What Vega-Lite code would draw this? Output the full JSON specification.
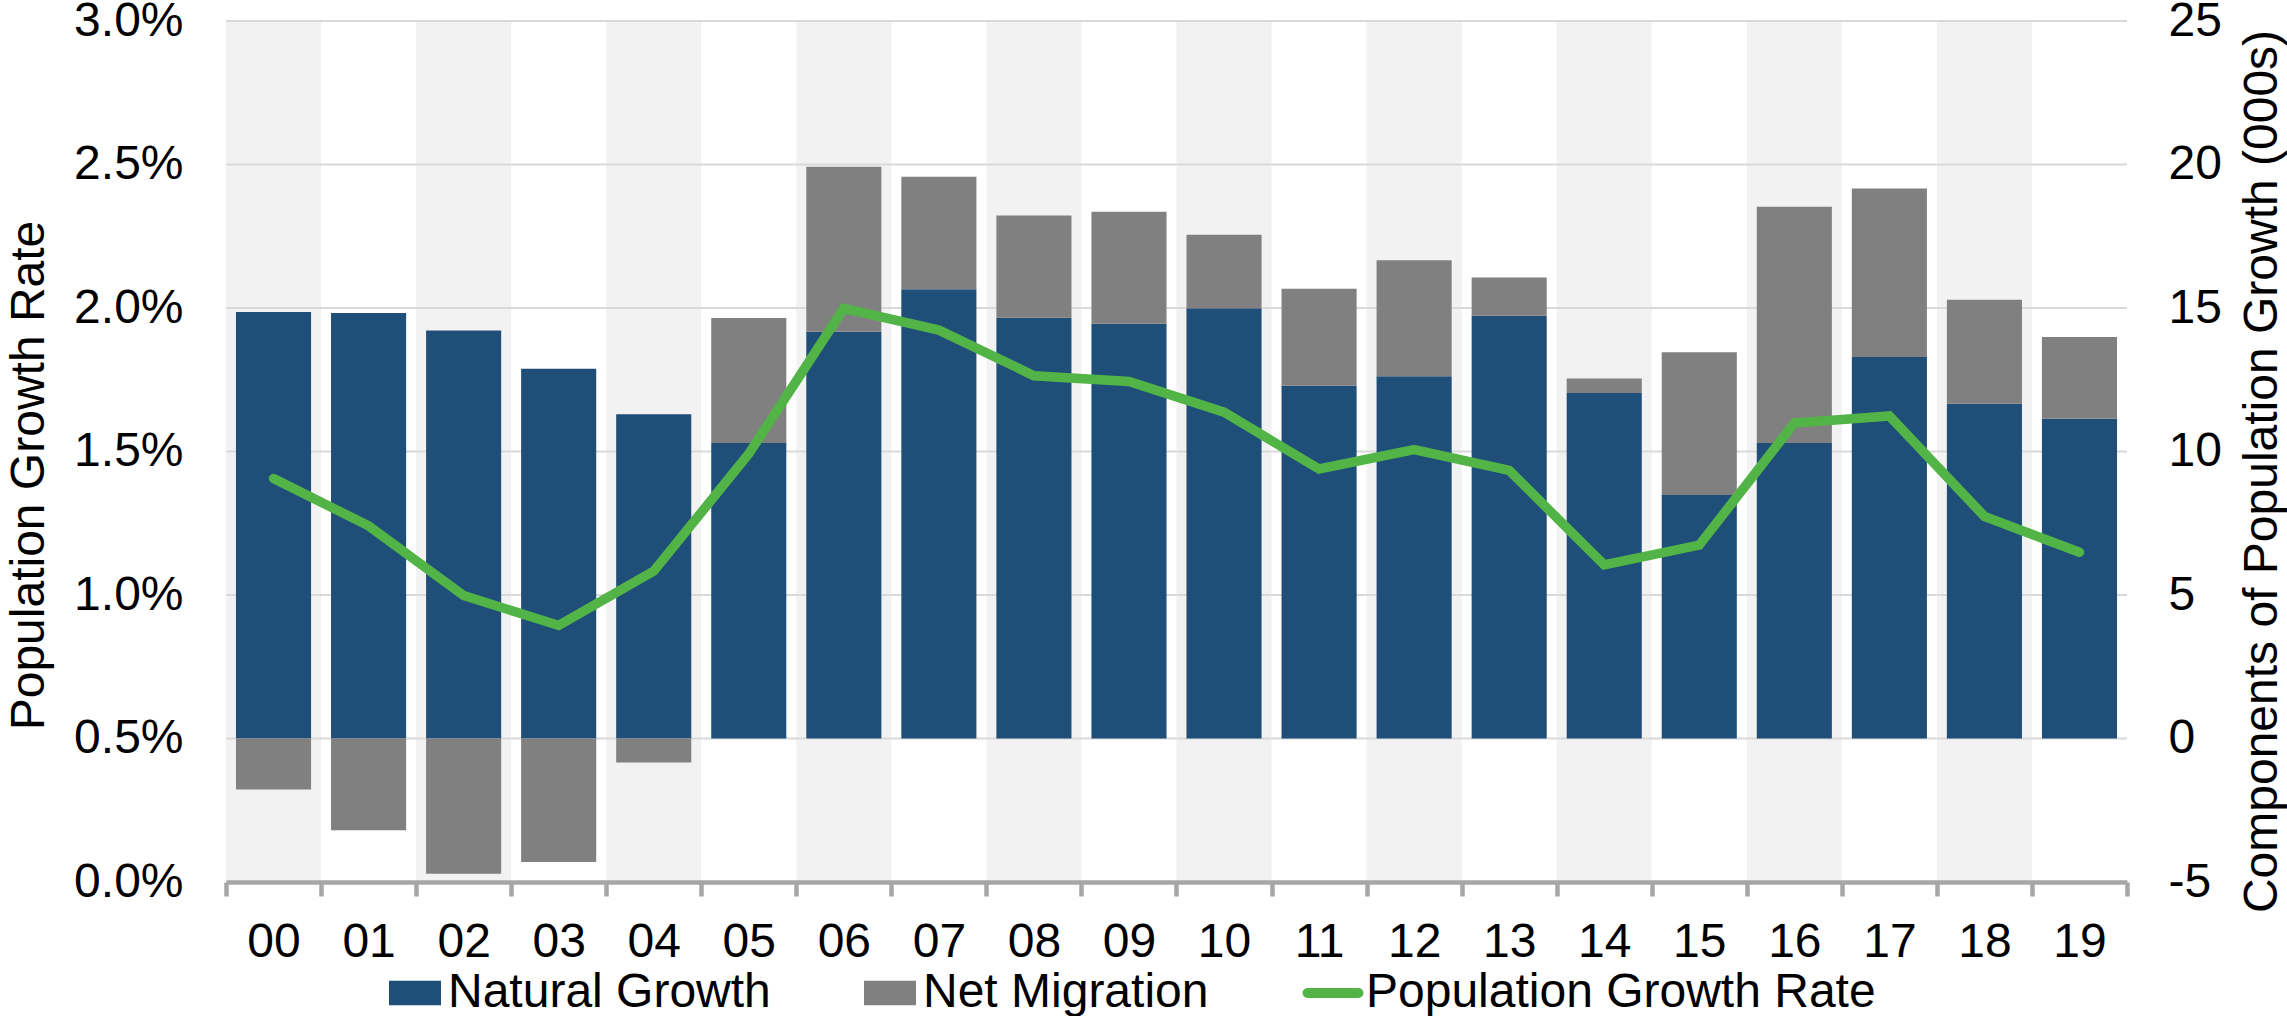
{
  "$schema": "https://vega.github.io/schema/vega-lite/v6.json",
  "width": 1901,
  "height": 861,
  "autosize": {"type": "none"},
  "padding": {"left": 226, "top": 21, "right": 160, "bottom": 134},
  "background": "white",
  "datasets": {
    "bands": [
      {"year": "00"}, {"year": "02"}, {"year": "04"}, {"year": "06"}, {"year": "08"},
      {"year": "10"}, {"year": "12"}, {"year": "14"}, {"year": "16"}, {"year": "18"}
    ],
    "grid": [
      {"level": 0.005}, {"level": 0.01}, {"level": 0.015}, {"level": 0.02}, {"level": 0.025}, {"level": 0.03}
    ],
    "components": [
      {"year": "00", "component": "Natural Growth", "value": 14.86},
      {"year": "00", "component": "Net Migration", "value": -1.78},
      {"year": "01", "component": "Natural Growth", "value": 14.83},
      {"year": "01", "component": "Net Migration", "value": -3.2},
      {"year": "02", "component": "Natural Growth", "value": 14.22},
      {"year": "02", "component": "Net Migration", "value": -4.71},
      {"year": "03", "component": "Natural Growth", "value": 12.88},
      {"year": "03", "component": "Net Migration", "value": -4.3},
      {"year": "04", "component": "Natural Growth", "value": 11.3},
      {"year": "04", "component": "Net Migration", "value": -0.84},
      {"year": "05", "component": "Natural Growth", "value": 10.3},
      {"year": "05", "component": "Net Migration", "value": 4.35},
      {"year": "06", "component": "Natural Growth", "value": 14.17},
      {"year": "06", "component": "Net Migration", "value": 5.75},
      {"year": "07", "component": "Natural Growth", "value": 15.65},
      {"year": "07", "component": "Net Migration", "value": 3.92},
      {"year": "08", "component": "Natural Growth", "value": 14.66},
      {"year": "08", "component": "Net Migration", "value": 3.56},
      {"year": "09", "component": "Natural Growth", "value": 14.45},
      {"year": "09", "component": "Net Migration", "value": 3.9},
      {"year": "10", "component": "Natural Growth", "value": 14.99},
      {"year": "10", "component": "Net Migration", "value": 2.56},
      {"year": "11", "component": "Natural Growth", "value": 12.29},
      {"year": "11", "component": "Net Migration", "value": 3.38},
      {"year": "12", "component": "Natural Growth", "value": 12.62},
      {"year": "12", "component": "Net Migration", "value": 4.04},
      {"year": "13", "component": "Natural Growth", "value": 14.73},
      {"year": "13", "component": "Net Migration", "value": 1.33},
      {"year": "14", "component": "Natural Growth", "value": 12.04},
      {"year": "14", "component": "Net Migration", "value": 0.5},
      {"year": "15", "component": "Natural Growth", "value": 8.48},
      {"year": "15", "component": "Net Migration", "value": 4.98},
      {"year": "16", "component": "Natural Growth", "value": 10.3},
      {"year": "16", "component": "Net Migration", "value": 8.23},
      {"year": "17", "component": "Natural Growth", "value": 13.29},
      {"year": "17", "component": "Net Migration", "value": 5.87},
      {"year": "18", "component": "Natural Growth", "value": 11.66},
      {"year": "18", "component": "Net Migration", "value": 3.63},
      {"year": "19", "component": "Natural Growth", "value": 11.14},
      {"year": "19", "component": "Net Migration", "value": 2.85}
    ],
    "rates": [
      {"year": "00", "rate": 0.01406},
      {"year": "01", "rate": 0.01241},
      {"year": "02", "rate": 0.00998},
      {"year": "03", "rate": 0.00894},
      {"year": "04", "rate": 0.01083},
      {"year": "05", "rate": 0.01492},
      {"year": "06", "rate": 0.01999},
      {"year": "07", "rate": 0.01923},
      {"year": "08", "rate": 0.01764},
      {"year": "09", "rate": 0.01744},
      {"year": "10", "rate": 0.01637},
      {"year": "11", "rate": 0.01439},
      {"year": "12", "rate": 0.01507},
      {"year": "13", "rate": 0.01434},
      {"year": "14", "rate": 0.01105},
      {"year": "15", "rate": 0.01174},
      {"year": "16", "rate": 0.01599},
      {"year": "17", "rate": 0.01624},
      {"year": "18", "rate": 0.01274},
      {"year": "19", "rate": 0.01149}
    ]
  },
  "layer": [
    {
      "data": {"name": "bands"},
      "mark": {"type": "rect", "color": "#f2f2f2"},
      "encoding": {
        "x": {
          "field": "year", "type": "ordinal",
          "scale": {"paddingInner": 0, "paddingOuter": 0},
          "axis": {
            "title": null, "labelAngle": 0, "labelFontSize": 48, "labelColor": "#000000",
            "labelPadding": 22, "tickBand": "extent", "tickSize": 14, "tickWidth": 4.5,
            "tickColor": "#a6a6a6", "domainColor": "#a6a6a6", "domainWidth": 4.5, "grid": false,
            "labelOverlap": false
          }
        }
      }
    },
    {
      "data": {"name": "grid"},
      "mark": {"type": "rule", "color": "#d9d9d9", "strokeWidth": 2},
      "encoding": {
        "y": {"field": "level", "type": "quantitative", "scale": {"domain": [0, 0.03], "nice": false}, "axis": null}
      }
    },
    {
      "data": {"name": "components"},
      "mark": {"type": "bar", "width": {"band": 0.79}},
      "encoding": {
        "x": {
          "field": "year", "type": "ordinal",
          "scale": {"paddingInner": 0, "paddingOuter": 0},
          "axis": {
            "title": null, "labelAngle": 0, "labelFontSize": 48, "labelColor": "#000000",
            "labelPadding": 22, "tickBand": "extent", "tickSize": 14, "tickWidth": 4.5,
            "tickColor": "#a6a6a6", "domainColor": "#a6a6a6", "domainWidth": 4.5, "grid": false,
            "labelOverlap": false
          }
        },
        "y": {
          "field": "value", "type": "quantitative", "stack": "zero",
          "scale": {"domain": [-5, 25], "nice": false, "zero": false},
          "axis": {
            "orient": "right", "values": [-5, 0, 5, 10, 15, 20, 25],
            "labelExpr": "'' + datum.value",
            "title": "Components of Population Growth (000s)",
            "titleFontSize": 48, "titleFontWeight": "normal", "titleColor": "#000000",
            "titleAngle": 270, "titleBaseline": "alphabetic", "titleAlign": "center",
            "titleX": 149, "titleY": 450,
            "labelFontSize": 48, "labelColor": "#000000", "labelPadding": 41,
            "ticks": false, "domain": false, "grid": false
          }
        },
        "color": {
          "field": "component", "type": "nominal",
          "scale": {
            "domain": ["Natural Growth", "Net Migration", "Population Growth Rate"],
            "range": ["#1f4e79", "#808080", "#52b447"]
          },
          "legend": {
            "orient": "none", "legendX": 163, "legendY": 946, "direction": "horizontal",
            "title": null, "labelFontSize": 48, "labelColor": "#000000", "labelLimit": 2000,
            "symbolSize": 2704, "symbolType": "square", "labelOffset": 7, "columnPadding": 93,
            "padding": 0,
            "encode": {
              "symbols": {
                "update": {
                  "shape": {"signal": "datum.value === 'Population Growth Rate' ? 'M-0.98,-0.19H0.98A0.19,0.19 0 0 1 0.98,0.19H-0.98A0.19,0.19 0 0 1 -0.98,-0.19Z' : 'M-1,-0.47H1V0.47H-1Z'"},
                  "fill": {"scale": "color", "field": "value"},
                  "stroke": {"value": "transparent"},
                  "strokeWidth": {"value": 0},
                  "opacity": {"value": 1},
                  "fillOpacity": {"value": 1}
                }
              }
            }
          }
        },
        "order": {"field": "component", "type": "nominal", "sort": "ascending"}
      }
    },
    {
      "data": {"name": "rates"},
      "mark": {"type": "line", "strokeWidth": 9.5, "strokeCap": "round", "strokeJoin": "miter"},
      "encoding": {
        "x": {
          "field": "year", "type": "ordinal",
          "scale": {"paddingInner": 0, "paddingOuter": 0},
          "axis": {
            "title": null, "labelAngle": 0, "labelFontSize": 48, "labelColor": "#000000",
            "labelPadding": 22, "tickBand": "extent", "tickSize": 14, "tickWidth": 4.5,
            "tickColor": "#a6a6a6", "domainColor": "#a6a6a6", "domainWidth": 4.5, "grid": false,
            "labelOverlap": false
          }
        },
        "y": {
          "field": "rate", "type": "quantitative",
          "scale": {"domain": [0, 0.03], "nice": false},
          "axis": {
            "orient": "left", "values": [0, 0.005, 0.01, 0.015, 0.02, 0.025, 0.03], "format": ".1%",
            "title": "Population Growth Rate",
            "titleFontSize": 48, "titleFontWeight": "normal", "titleColor": "#000000",
            "titleAngle": 270, "titleBaseline": "alphabetic", "titleAlign": "center",
            "titleX": -183, "titleY": 454,
            "labelFontSize": 48, "labelColor": "#000000", "labelPadding": 43,
            "ticks": false, "domain": false, "grid": false
          }
        },
        "color": {"datum": "Population Growth Rate"}
      }
    }
  ],
  "resolve": {"scale": {"y": "independent"}},
  "config": {
    "font": "Liberation Sans",
    "view": {"stroke": null},
    "axis": {"labelFont": "Liberation Sans", "titleFont": "Liberation Sans"},
    "legend": {"labelFont": "Liberation Sans"}
  }
}
